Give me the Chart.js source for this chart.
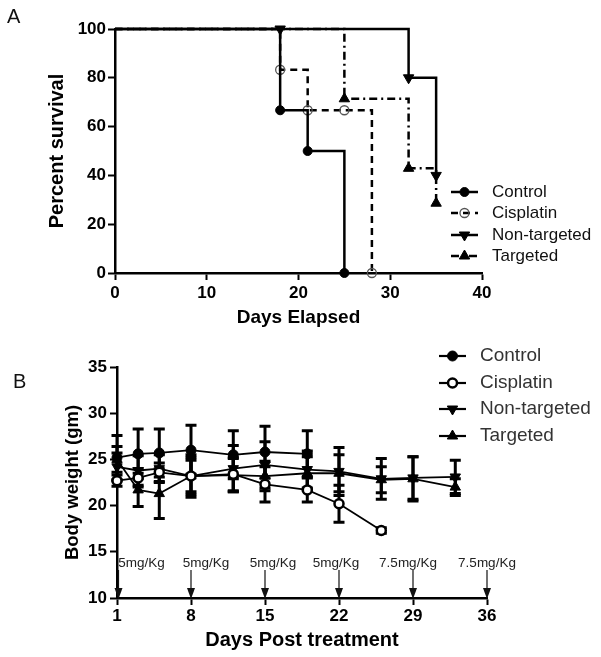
<!DOCTYPE html>
<html><head><meta charset="utf-8">
<script src="https://cdn.jsdelivr.net/npm/chart.js@4/dist/chart.umd.min.js"></script>
<style>
html,body{margin:0;padding:0;background:#fff;width:601px;height:657px;overflow:hidden;}
#wrap{position:relative;width:601px;height:657px;}
canvas{position:absolute;left:0;}
#cA{top:0;} #cB{top:330px;}
.lbl{position:absolute;font:20px 'Liberation Sans',Arial,sans-serif;color:#111;line-height:20px;}
</style></head><body>
<div id="wrap">
<canvas id="cA" width="601" height="340"></canvas>
<canvas id="cB" width="601" height="327"></canvas>
<div class="lbl" style="left:7px;top:6px;">A</div>
<div class="lbl" style="left:13px;top:371px;">B</div>
</div>
<script>
// ---------- Panel A : survival ----------
const controlDays      = [0, 18, 21, 25];
const controlSurv      = [100, 66.7, 50, 0];
const cisplatinDays    = [0, 18, 21, 25, 28];
const cisplatinSurv    = [100, 83.3, 66.7, 66.7, 0];
const nonTargetedDays  = [0, 18, 32, 35];
const nonTargetedSurv  = [100, 100, 80, 40];
const targetedDays     = [0, 25, 32, 35];
const targetedSurv     = [100, 71.4, 42.9, 28.6];
const survXTicks = [0, 10, 20, 30, 40];
const survYTicks = [0, 20, 40, 60, 80, 100];

// ---------- Panel B : body weight ----------
const weightDays        = [1, 3, 5, 8, 12, 15, 19, 22, 26, 29, 33];
const controlWeight     = [25.2, 25.6, 25.7, 26.0, 25.5, 25.8, 25.6];
const controlSD         = [2.4, 2.7, 2.6, 2.7, 2.6, 2.8, 2.5];
const cisplatinWeight   = [22.7, 23.0, 23.6, 23.2, 23.4, 22.3, 21.7, 20.2, 17.3];
const cisplatinSD       = [0.6, 1.0, 1.0, 1.7, 1.8, 1.9, 1.3, 2.0, 0.3];
const nonTargetedWeight = [24.2, 23.8, 24.0, 23.2, 24.0, 24.4, 23.9, 23.7, 22.9, 23.0, 23.1];
const nonTargetedSD     = [1.5, 1.6, 1.5, 2.3, 2.5, 2.5, 2.0, 2.6, 2.2, 2.3, 1.8];
const targetedWeight    = [25.0, 21.7, 21.3, 23.2, 23.3, 23.2, 23.5, 23.5, 22.8, 22.9, 22.0];
const targetedSD        = [1.4, 1.8, 2.7, 2.0, 1.8, 1.6, 1.8, 2.0, 1.4, 2.4, 0.9];
const weightXTicks = [1, 8, 15, 22, 29, 36];
const weightYTicks = [10, 15, 20, 25, 30, 35];
const doseDays   = [1, 8, 15, 22, 29, 36];
const doseLabels = ['5mg/Kg', '5mg/Kg', '5mg/Kg', '5mg/Kg', '7.5mg/Kg', '7.5mg/Kg'];

// ---------- helpers ----------
const FONT = "'Liberation Sans', Arial, sans-serif";
function pts(xs, ys){ return xs.map((x,i)=>({x:x, y:ys[i]})); }

function drawMarker(ctx, style, x, y, r, fill, stroke, bw){
  ctx.save();
  ctx.setLineDash([]);
  ctx.beginPath();
  if (style === 'circle') {
    ctx.arc(x, y, r, 0, Math.PI*2);
  } else {
    const s = style === 'triDown' ? -1 : 1;
    ctx.moveTo(x, y - s*r);
    ctx.lineTo(x + 0.866*r, y + s*0.5*r);
    ctx.lineTo(x - 0.866*r, y + s*0.5*r);
    ctx.closePath();
  }
  ctx.fillStyle = fill; ctx.fill();
  if (bw > 0) { ctx.lineWidth = bw; ctx.strokeStyle = stroke; ctx.stroke(); }
  ctx.restore();
}

const manualLegend = {
  id: 'manualLegend',
  afterDraw(chart, args, o){
    const ctx = chart.ctx;
    chart.data.datasets.forEach((ds, i) => {
      const y = o.ys[i];
      const m = ds.legendMarker;
      ctx.save();
      ctx.strokeStyle = '#000';
      ctx.lineWidth = o.lineWidth;
      ctx.setLineDash(o.useDash ? (ds.borderDash || []) : []);
      ctx.beginPath(); ctx.moveTo(o.x0, y); ctx.lineTo(o.x1, y); ctx.stroke();
      drawMarker(ctx, m.style, (o.x0+o.x1)/2, y, m.r, m.fill, m.stroke, m.bw);
      ctx.fillStyle = o.color;
      ctx.font = o.font;
      ctx.textBaseline = 'middle';
      ctx.textAlign = 'left';
      ctx.fillText(ds.label, o.textX, y);
      ctx.restore();
    });
  }
};

const errorBars = {
  id: 'errorBars',
  beforeDatasetsDraw(chart, args, o){
    if (!o || !o.enabled) return;
    const ctx = chart.ctx, xs = chart.scales.x, ys = chart.scales.y;
    ctx.save();
    ctx.strokeStyle = '#000';
    ctx.lineWidth = o.lineWidth;
    ctx.lineCap = 'butt';
    chart.data.datasets.forEach(ds => {
      if (!ds.errors) return;
      ds.data.forEach((p, i) => {
        const e = ds.errors[i];
        if (e == null) return;
        const px = xs.getPixelForValue(p.x);
        const yt = ys.getPixelForValue(p.y + e), yb = ys.getPixelForValue(p.y - e);
        ctx.beginPath();
        ctx.moveTo(px, yt); ctx.lineTo(px, yb);
        ctx.moveTo(px - o.cap, yt); ctx.lineTo(px + o.cap, yt);
        ctx.moveTo(px - o.cap, yb); ctx.lineTo(px + o.cap, yb);
        ctx.stroke();
      });
    });
    ctx.restore();
  }
};

const doseArrows = {
  id: 'doseArrows',
  afterDraw(chart, args, o){
    if (!o || !o.enabled) return;
    const ctx = chart.ctx, xs = chart.scales.x, ys = chart.scales.y;
    const yBase = ys.getPixelForValue(ys.min);
    ctx.save();
    doseDays.forEach((d, i) => {
      const px = xs.getPixelForValue(d) + (i === 0 ? 1.5 : 0);
      const yTop = yBase - o.len;
      ctx.strokeStyle = '#111'; ctx.lineWidth = 1.2;
      ctx.beginPath(); ctx.moveTo(px, yTop); ctx.lineTo(px, yBase - 8); ctx.stroke();
      ctx.fillStyle = '#111';
      ctx.beginPath();
      ctx.moveTo(px - 4, yBase - 10); ctx.lineTo(px + 4, yBase - 10); ctx.lineTo(px, yBase + 1);
      ctx.closePath(); ctx.fill();
      ctx.font = o.font; ctx.fillStyle = '#222';
      ctx.textAlign = 'center'; ctx.textBaseline = 'middle';
      ctx.fillText(doseLabels[i], px + o.dx[i], yTop - 7);
    });
    ctx.restore();
  }
};

function axisCommon(extra){
  return Object.assign({
    grid: {display: true, drawOnChartArea: false, drawTicks: true, tickLength: 7, tickColor: '#000', tickWidth: 2},
    border: {display: true, color: '#000', width: 2.5},
  }, extra);
}

// ---------- Chart A ----------
const A_LINE = 2.5;
const kmDatasets = [
  {label: 'Control', data: pts(controlDays, controlSurv), borderDash: [],
   pointStyle: 'circle', pointRotation: 0, r: 4.5, fill: '#000', stroke: '#000', bw: 1},
  {label: 'Cisplatin', data: pts(cisplatinDays, cisplatinSurv), borderDash: [7, 5],
   pointStyle: 'circle', pointRotation: 0, r: 4.5, fill: 'rgba(0,0,0,0)', stroke: '#555', bw: 1.3},
  {label: 'Non-targeted', data: pts(nonTargetedDays, nonTargetedSurv), borderDash: [],
   pointStyle: 'triangle', pointRotation: 180, r: 6, fill: '#000', stroke: '#000', bw: 1},
  {label: 'Targeted', data: pts(targetedDays, targetedSurv), borderDash: [8, 4, 2, 4],
   pointStyle: 'triangle', pointRotation: 0, r: 6, fill: '#000', stroke: '#000', bw: 1},
].map(d => ({
  label: d.label, data: d.data, stepped: 'before',
  borderColor: '#000', borderWidth: A_LINE, borderDash: d.borderDash,
  pointStyle: d.pointStyle, pointRotation: d.pointRotation,
  pointRadius: (c) => c.dataIndex === 0 ? 0 : d.r,
  pointBackgroundColor: d.fill, pointBorderColor: d.stroke, pointBorderWidth: d.bw,
  clip: false,
  legendMarker: {style: d.pointStyle === 'circle' ? 'circle' : (d.pointRotation ? 'triDown' : 'triUp'),
                 r: d.r, fill: d.fill, stroke: d.stroke, bw: d.bw}
}));

new Chart(document.getElementById('cA'), {
  type: 'line',
  data: {datasets: kmDatasets},
  plugins: [manualLegend],
  options: {
    responsive: false, animation: false, devicePixelRatio: 1,
    layout: {padding: {left: 0, top: 29, right: 119, bottom: 0}},
    plugins: {
      legend: {display: false}, tooltip: {enabled: false},
      manualLegend: {ys: [192, 213, 235, 256], x0: 451, x1: 478, textX: 492,
                     font: '17px ' + FONT, color: '#111', lineWidth: 2.5, useDash: true}
    },
    scales: {
      x: axisCommon({
        type: 'linear', min: survXTicks[0], max: survXTicks[survXTicks.length-1],
        afterBuildTicks: s => { s.ticks = survXTicks.map(v => ({value: v})); },
        afterFit: s => { s.height = 67; },
        ticks: {font: {family: FONT, size: 17, weight: 'bold'}, color: '#000', padding: 3, maxRotation: 0},
        title: {display: true, text: 'Days Elapsed', color: '#000',
                font: {family: FONT, size: 19, weight: 'bold'}, padding: {top: 0, bottom: 10.6}}
      }),
      y: axisCommon({
        type: 'linear', min: survYTicks[0], max: survYTicks[survYTicks.length-1],
        afterBuildTicks: s => { s.ticks = survYTicks.map(v => ({value: v})); },
        afterFit: s => { s.width = 115; },
        ticks: {font: {family: FONT, size: 17, weight: 'bold'}, color: '#000', padding: 2},
        title: {display: true, text: 'Percent survival', color: '#000',
                font: {family: FONT, size: 20, weight: 'bold'}, padding: {top: 45, bottom: 0}}
      })
    }
  }
});

// ---------- Chart B ----------
const wDefs = [
  {label: 'Control', y: controlWeight, e: controlSD, style: 'circle', rot: 0, r: 5, fill: '#000', stroke: '#000', bw: 1},
  {label: 'Cisplatin', y: cisplatinWeight, e: cisplatinSD, style: 'circle', rot: 0, r: 4.5, fill: '#fff', stroke: '#000', bw: 2.5},
  {label: 'Non-targeted', y: nonTargetedWeight, e: nonTargetedSD, style: 'triangle', rot: 180, r: 6, fill: '#000', stroke: '#000', bw: 1},
  {label: 'Targeted', y: targetedWeight, e: targetedSD, style: 'triangle', rot: 0, r: 6, fill: '#000', stroke: '#000', bw: 1},
];
const wDatasets = wDefs.map(d => ({
  label: d.label,
  data: pts(weightDays.slice(0, d.y.length), d.y),
  errors: d.e,
  borderColor: '#000', borderWidth: 1.8,
  pointStyle: d.style, pointRotation: d.rot, pointRadius: d.r,
  pointBackgroundColor: d.fill, pointBorderColor: d.stroke, pointBorderWidth: d.bw,
  clip: false,
  legendMarker: {style: d.style === 'circle' ? 'circle' : (d.rot ? 'triDown' : 'triUp'),
                 r: d.r, fill: d.fill, stroke: d.stroke, bw: d.bw}
}));

new Chart(document.getElementById('cB'), {
  type: 'line',
  data: {datasets: wDatasets},
  plugins: [errorBars, doseArrows, manualLegend],
  options: {
    responsive: false, animation: false, devicePixelRatio: 1,
    layout: {padding: {left: 0, top: 37, right: 114, bottom: 0}},
    plugins: {
      legend: {display: false}, tooltip: {enabled: false},
      errorBars: {enabled: true, lineWidth: 3, cap: 5.5},
      doseArrows: {enabled: true, len: 28, font: '13.5px ' + FONT, dx: [23, 15, 8, -3, -5, 0]},
      manualLegend: {ys: [26, 53, 79, 106], x0: 439, x1: 466, textX: 480,
                     font: '19px ' + FONT, color: '#333', lineWidth: 2.2, useDash: false}
    },
    scales: {
      x: axisCommon({
        type: 'linear', min: weightXTicks[0], max: weightXTicks[weightXTicks.length-1],
        afterBuildTicks: s => { s.ticks = weightXTicks.map(v => ({value: v})); },
        afterFit: s => { s.height = 59; },
        ticks: {font: {family: FONT, size: 17, weight: 'bold'}, color: '#000', padding: 1, maxRotation: 0},
        title: {display: true, text: 'Days Post treatment', color: '#000',
                font: {family: FONT, size: 20, weight: 'bold'}, padding: {top: 0, bottom: 5}}
      }),
      y: axisCommon({
        type: 'linear', min: weightYTicks[0], max: weightYTicks[weightYTicks.length-1],
        afterBuildTicks: s => { s.ticks = weightYTicks.map(v => ({value: v})); },
        afterFit: s => { s.width = 117; },
        ticks: {font: {family: FONT, size: 17, weight: 'bold'}, color: '#000', padding: 3},
        title: {display: true, text: 'Body weight (gm)', color: '#000',
                font: {family: FONT, size: 18.5, weight: 'bold'}, padding: {top: 62, bottom: 0}}
      })
    }
  }
});
</script>
</body></html>
